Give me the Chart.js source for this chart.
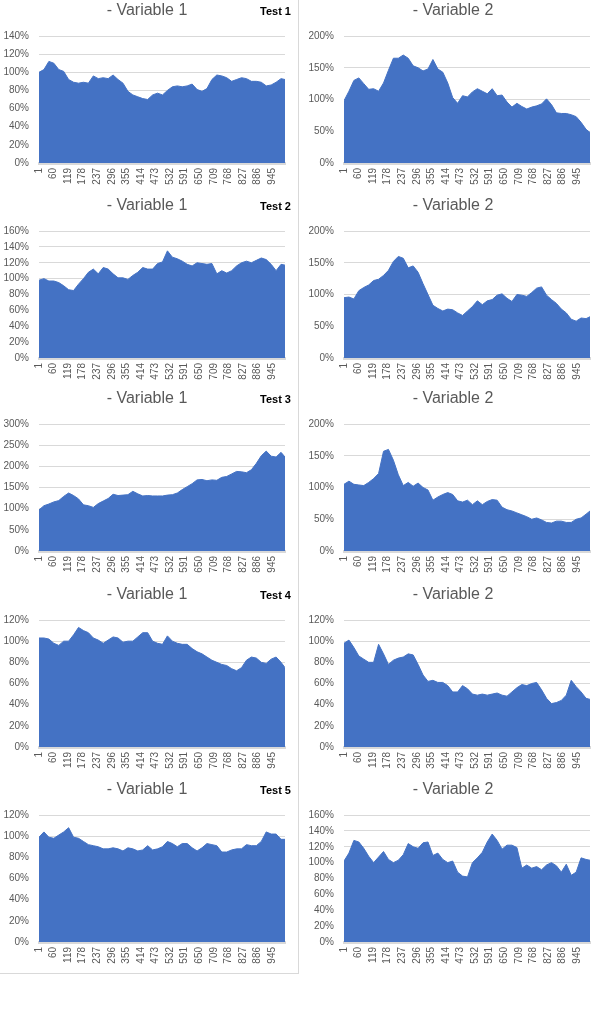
<!DOCTYPE html>
<html>
<head>
<meta charset="utf-8">
<title>Test 1-5 - Variable 1 / Variable 2</title>
<script src="https://cdn.jsdelivr.net/npm/chart.js@4"></script>
<style>
  body { margin: 0; background: #fff; font-family: "Liberation Sans", Arial, sans-serif; }
  #page { position: relative; width: 601px; height: 1024px; overflow: hidden; }
  .frame { position: absolute; left: -1px; top: -1px; width: 298px; height: 973px; border: 1px solid #d9d9d9; }
  .cell { position: absolute; }
  .title { position: absolute; font-size: 16px; line-height: 20px; color: #595959; text-align: center; }
  .test { position: absolute; width: 60px; font-size: 11px; font-weight: bold; color: #000; text-align: right; }
</style>
</head>
<body>
<div id="page">
  <div class="frame"></div>
</div>

<script>
// x positions (observation number) where the curves were read
var sampleIdx = [1, 21, 41, 61, 81, 101, 121, 141, 161, 181, 201, 221, 241, 261, 281, 301, 321, 341, 361, 381,
  401, 421, 441, 461, 481, 501, 521, 541, 561, 581, 601, 621, 641, 661, 681, 701, 721, 741, 761, 781,
  801, 821, 841, 861, 881, 901, 921, 941, 961, 981, 997];

var xTickLabels = [1, 60, 119, 178, 237, 296, 355, 414, 473, 532, 591, 650, 709, 768, 827, 886, 945];

var testNames = ['Test 1', 'Test 2', 'Test 3', 'Test 4', 'Test 5'];
var variableNames = ['- Variable 1', '- Variable 2'];

// values in %
var test1Var1 = [100, 103, 112, 110, 103, 101, 92, 89, 88, 89, 88, 96, 93, 94, 93, 97, 92, 88, 79, 75,
  73, 71, 70, 75, 77, 75, 80, 84, 85, 84, 85, 87, 81, 79, 82, 92, 97, 96, 94, 90,
  92, 94, 93, 90, 90, 89, 85, 86, 89, 93, 92];
var test1Var2 = [98, 113, 130, 134, 125, 116, 117, 113, 126, 146, 165, 165, 170, 165, 153, 150, 145, 148, 163, 148,
  143, 126, 103, 94, 106, 104, 112, 117, 113, 109, 117, 106, 107, 96, 88, 94, 89, 85, 88, 90,
  93, 101, 92, 79, 78, 78, 76, 73, 64, 53, 48];

var test2Var1 = [98, 100, 97, 97, 95, 91, 86, 85, 93, 100, 108, 112, 106, 114, 112, 106, 101, 101, 99, 104,
  108, 114, 112, 112, 119, 121, 135, 127, 125, 122, 118, 116, 120, 119, 118, 119, 106, 110, 107, 110,
  116, 120, 122, 120, 123, 126, 124, 118, 110, 118, 117];
var test2Var2 = [95, 96, 93, 106, 111, 115, 122, 124, 130, 138, 152, 160, 157, 142, 145, 135, 117, 100, 83, 78,
  74, 77, 76, 71, 67, 74, 81, 90, 84, 90, 92, 99, 101, 94, 89, 100, 99, 97, 103, 110,
  112, 99, 92, 86, 77, 71, 61, 58, 63, 62, 65];

var test3Var1 = [97, 107, 111, 116, 119, 129, 137, 131, 123, 109, 107, 103, 112, 118, 124, 134, 131, 132, 133, 141,
  135, 130, 131, 130, 130, 130, 132, 133, 137, 145, 152, 159, 168, 169, 166, 168, 167, 174, 176, 182,
  188, 187, 185, 192, 207, 225, 236, 224, 222, 233, 222];
var test3Var2 = [105, 110, 105, 104, 103, 108, 114, 122, 157, 160, 143, 120, 103, 108, 102, 107, 100, 96, 80, 85,
  89, 92, 89, 79, 77, 80, 73, 79, 73, 78, 81, 80, 69, 65, 63, 60, 57, 54, 50, 52,
  49, 45, 44, 47, 47, 45, 45, 50, 52, 58, 63];

var test4Var1 = [103, 103, 102, 98, 96, 100, 100, 106, 113, 110, 108, 103, 101, 98, 101, 104, 103, 99, 100, 100,
  104, 108, 108, 100, 98, 97, 105, 100, 98, 97, 97, 93, 90, 88, 85, 82, 80, 78, 77, 74,
  72, 75, 82, 85, 84, 80, 79, 83, 85, 80, 75];
var test4Var2 = [98, 101, 94, 86, 83, 80, 80, 97, 88, 78, 82, 84, 85, 88, 87, 78, 68, 62, 63, 61,
  61, 58, 52, 52, 58, 55, 50, 49, 50, 49, 50, 51, 49, 48, 52, 56, 59, 58, 60, 61,
  54, 46, 41, 42, 44, 49, 63, 57, 52, 46, 45];

var test5Var1 = [99, 104, 99, 98, 101, 104, 108, 99, 98, 95, 92, 91, 90, 88, 88, 89, 88, 86, 89, 88,
  86, 87, 91, 87, 88, 90, 95, 93, 90, 93, 93, 89, 86, 89, 93, 92, 91, 85, 85, 87,
  88, 88, 92, 91, 91, 95, 104, 102, 102, 97, 97];
var test5Var2 = [102, 112, 128, 126, 118, 108, 100, 107, 114, 104, 100, 103, 110, 124, 120, 118, 125, 126, 109, 112,
  104, 100, 102, 88, 83, 82, 100, 106, 113, 126, 136, 128, 117, 122, 122, 119, 93, 97, 93, 95,
  91, 97, 100, 96, 88, 98, 84, 88, 106, 104, 103];

var rows = [
  { left: test1Var1, right: test1Var2, leftMax: 140, leftStep: 20, rightMax: 200, rightStep: 50 },
  { left: test2Var1, right: test2Var2, leftMax: 160, leftStep: 20, rightMax: 200, rightStep: 50 },
  { left: test3Var1, right: test3Var2, leftMax: 300, leftStep: 50, rightMax: 200, rightStep: 50 },
  { left: test4Var1, right: test4Var2, leftMax: 120, leftStep: 20, rightMax: 120, rightStep: 20 },
  { left: test5Var1, right: test5Var2, leftMax: 120, leftStep: 20, rightMax: 160, rightStep: 20 }
];

var rowTops = [0, 195, 388, 584, 779];
var font = '"Liberation Sans", Arial, sans-serif';
var page = document.getElementById('page');

function addText(cls, text, left, top, width) {
  var d = document.createElement('div');
  d.className = cls;
  d.textContent = text;
  d.style.left = left + 'px';
  d.style.top = top + 'px';
  if (width) d.style.width = width + 'px';
  page.appendChild(d);
}

function drawPanel(values, yMax, yStep, left, top, width, axisWidth, rightPad) {
  var canvas = document.createElement('canvas');
  canvas.width = width;
  canvas.height = 195;
  canvas.className = 'cell';
  canvas.style.left = left + 'px';
  canvas.style.top = top + 'px';
  page.appendChild(canvas);

  new Chart(canvas.getContext('2d'), {
    type: 'line',
    data: {
      datasets: [{
        data: sampleIdx.map(function(x, i) { return { x: x, y: values[i] }; }),
        fill: 'origin',
        backgroundColor: '#4472C4',
        borderColor: '#4472C4',
        borderWidth: 1,
        pointRadius: 0,
        tension: 0
      }]
    },
    options: {
      responsive: false,
      animation: false,
      layout: { padding: { left: 0, right: rightPad, top: 36, bottom: 0 } },
      plugins: {
        legend: { display: false },
        tooltip: { enabled: false }
      },
      scales: {
        x: {
          type: 'linear',
          min: 1,
          max: 997,
          afterBuildTicks: function(scale) {
            scale.ticks = xTickLabels.map(function(v) { return { value: v }; });
          },
          afterFit: function(scale) { scale.height = 32; },
          grid: { display: false, drawTicks: false },
          border: { display: true, color: '#d9d9d9', width: 3 },
          ticks: {
            autoSkip: false,
            minRotation: 90,
            maxRotation: 90,
            padding: 5,
            color: '#595959',
            font: { family: font, size: 10 },
            callback: function(v) { return String(v); }
          }
        },
        y: {
          min: 0,
          max: yMax,
          afterFit: function(scale) { scale.width = axisWidth; },
          grid: { color: '#d9d9d9', drawTicks: false },
          border: { display: false },
          ticks: {
            stepSize: yStep,
            padding: 10,
            color: '#595959',
            font: { family: font, size: 10 },
            callback: function(v) { return v + '%'; }
          }
        }
      }
    }
  });
}

rows.forEach(function(row, r) {
  var top = rowTops[r];
  drawPanel(row.left, row.leftMax, row.leftStep, 0, top, 298, 39, 13);
  drawPanel(row.right, row.rightMax, row.rightStep, 300, top, 301, 44, 11);
  addText('title', variableNames[0], 0, top, 294);
  addText('title', variableNames[1], 300, top, 306);
  addText('test', testNames[r], 231, top + 5, 60);
});
</script>
</body>
</html>
